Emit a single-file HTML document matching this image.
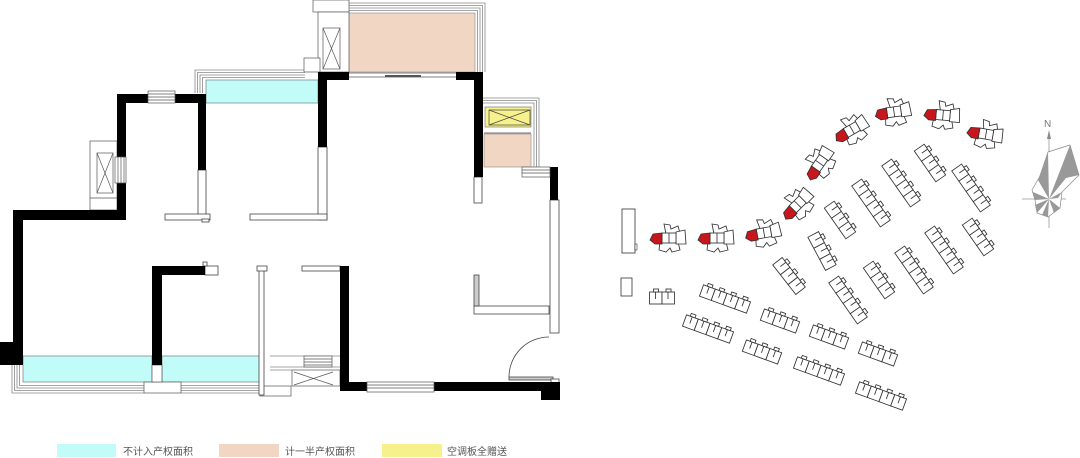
<!DOCTYPE html>
<html><head><meta charset="utf-8"><style>
html,body{margin:0;padding:0;background:#fff;}
svg{display:block;}
.t{font-family:"Liberation Sans","Noto Sans CJK SC",sans-serif;font-size:10px;fill:#555;}
</style></head><body>
<svg width="1080" height="458" viewBox="0 0 1080 458" xmlns="http://www.w3.org/2000/svg">
<defs>
<g id="tw" stroke="#333" stroke-width="0.85" fill="#fff">
  <path d="M-4,-14 L2,-13 L3,-9 L10,-12 L12,-5 L-2,-4 Z"/>
  <path d="M-8,4 L10,4 L12,12 L4,14 L2,10 L-2,14 L-9,12 Z"/>
  <path d="M8,-6 L17,-8 L18,6 L8,6 Z"/>
  <rect x="-6" y="-5" width="14" height="10"/>
  <line x1="1" y1="-5" x2="1" y2="5"/>
  <path d="M-6,-5 L-15,-4 L-18,2 L-13,6 L-6,6 Z" fill="#c8161d"/>
</g>
<g id="u" stroke="#333" stroke-width="0.85" fill="#fff">
  <rect x="0" y="-6" width="12.5" height="12"/>
  <rect x="4" y="-9" width="5" height="3"/>
  <line x1="6" y1="-6" x2="6" y2="1"/>
</g>
<g id="s2"><use href="#u" x="-12.5"/><use href="#u" x="0"/></g>
<g id="s3"><use href="#u" x="-18.75"/><use href="#u" x="-6.25"/><use href="#u" x="6.25"/></g>
<g id="s4"><use href="#u" x="-25"/><use href="#u" x="-12.5"/><use href="#u" x="0"/><use href="#u" x="12.5"/></g>
</defs>

<!-- ===== colored areas ===== -->
<rect x="206" y="80" width="112" height="23" fill="#c2fcf9" stroke="#666" stroke-width="0.6"/>
<rect x="23" y="356" width="129" height="26" fill="#c2fcf9" stroke="#666" stroke-width="0.6"/>
<rect x="162" y="356" width="98" height="26" fill="#c2fcf9" stroke="#666" stroke-width="0.6"/>
<rect x="349" y="13" width="126" height="59" fill="#f2d6c4" stroke="#888" stroke-width="0.6"/>
<rect x="484" y="134" width="47" height="33" fill="#f2d6c4" stroke="#888" stroke-width="0.6"/>
<rect x="485" y="107" width="46" height="20" fill="#f6f18a" stroke="#666" stroke-width="0.6"/>

<!-- ===== railings ===== -->
<g fill="none" stroke="#888" stroke-width="0.8">
  <polyline points="195,93 195,70 305,70"/>
  <polyline points="197.5,93 197.5,72.5 305,72.5"/>
  <polyline points="200,93 200,75 305,75"/>
  <polyline points="202.5,93 202.5,77.5 305,77.5"/>
  <polyline points="349,3 485,3 485,72"/>
  <polyline points="349,5.5 482.5,5.5 482.5,72"/>
  <polyline points="349,8 480,8 480,72"/>
  <polyline points="349,10.5 477.5,10.5 477.5,72"/>
  <polyline points="483,98 539,98 539,167"/>
  <polyline points="483,100.5 536.5,100.5 536.5,167"/>
  <polyline points="483,103 534,103 534,167"/>
  <polyline points="12,365 12,393 144,393"/>
  <polyline points="14.5,365 14.5,390.5 144,390.5"/>
  <polyline points="17,365 17,388 144,388"/>
  <polyline points="19.5,365 19.5,385.5 144,385.5"/>
  <line x1="181" y1="385.5" x2="260" y2="385.5"/>
  <line x1="181" y1="388" x2="260" y2="388"/>
  <line x1="181" y1="390.5" x2="260" y2="390.5"/>
  <line x1="181" y1="393" x2="260" y2="393"/>
  <line x1="270" y1="356" x2="340" y2="356"/>
  <line x1="270" y1="367" x2="340" y2="367"/>
  <line x1="270" y1="370" x2="292" y2="370"/>
</g>
<rect x="144" y="382" width="37" height="11" fill="#fff" stroke="#555" stroke-width="0.7"/>
<rect x="152" y="365" width="10" height="17" fill="#fff" stroke="#555" stroke-width="0.7"/>

<!-- ===== AC units ===== -->
<g fill="#fff" stroke="#555" stroke-width="0.7">
  <rect x="90" y="141" width="27" height="69"/>
  <rect x="97" y="153" width="16" height="40"/>
  <line x1="97" y1="153" x2="113" y2="193"/><line x1="113" y1="153" x2="97" y2="193"/>
  <line x1="90" y1="198" x2="117" y2="198"/>
  <rect x="313" y="0" width="36" height="12"/>
  <rect x="318" y="12" width="31" height="60"/>
  <rect x="323" y="28" width="17" height="41"/>
  <line x1="323" y1="28" x2="340" y2="69"/><line x1="340" y1="28" x2="323" y2="69"/>
  <rect x="304" y="58" width="16" height="14"/>
  <rect x="292" y="370" width="48" height="16"/>
  <line x1="294" y1="372" x2="333" y2="385"/><line x1="333" y1="372" x2="294" y2="385"/>
  <rect x="260" y="386" width="31" height="10"/>
</g>
<g fill="none" stroke="#444" stroke-width="0.7">
  <rect x="489" y="110" width="41" height="15"/>
  <line x1="489" y1="110" x2="530" y2="125"/><line x1="530" y1="110" x2="489" y2="125"/>
  <line x1="484" y1="133" x2="531" y2="133"/>
</g>

<!-- ===== thin walls ===== -->
<g fill="#fff" stroke="#444" stroke-width="0.8">
  <rect x="198" y="170" width="8" height="47"/>
  <rect x="165" y="214" width="45" height="6"/>
  <rect x="202" y="219" width="7" height="3"/>
  <rect x="318" y="147" width="9" height="73"/>
  <rect x="250" y="214" width="77" height="6"/>
  <rect x="474" y="177" width="8" height="26"/>
  <rect x="550" y="200" width="9" height="133"/>
  <rect x="474" y="306" width="75" height="8"/>
  <rect x="474" y="275" width="5" height="31" fill="#ccc"/>
  <rect x="302" y="266" width="38" height="5"/>
  <rect x="259" y="270" width="5" height="125"/>
  <rect x="257" y="266" width="10" height="5"/>
  <rect x="205" y="266" width="13" height="9"/>
  <rect x="203" y="262" width="4" height="4"/>
  <rect x="509" y="377" width="44" height="3" fill="#ccc"/>
  <rect x="551" y="379" width="8" height="4"/>
</g>
<path d="M509,377 A40,40 0 0,1 549,337" fill="none" stroke="#444" stroke-width="0.8"/>

<!-- ===== black walls ===== -->
<g fill="#000">
  <rect x="13" y="210" width="10" height="155"/>
  <rect x="0" y="342" width="23" height="23"/>
  <rect x="13" y="210" width="113" height="10"/>
  <rect x="117" y="94" width="9" height="126"/>
  <rect x="117" y="94" width="89" height="9"/>
  <rect x="198" y="94" width="8" height="76"/>
  <rect x="318" y="72" width="31" height="8"/>
  <rect x="318" y="72" width="9" height="75"/>
  <rect x="456" y="72" width="27" height="8"/>
  <rect x="474" y="72" width="9" height="105"/>
  <rect x="550" y="167" width="8" height="33"/>
  <rect x="152" y="266" width="10" height="99"/>
  <rect x="152" y="266" width="53" height="9"/>
  <rect x="340" y="266" width="9" height="125"/>
  <rect x="340" y="382" width="220" height="9"/>
  <rect x="541" y="382" width="19" height="18"/>
</g>

<!-- ===== windows / doors ===== -->
<g fill="#fff" stroke="#555" stroke-width="0.7">
  <rect x="148" y="91" width="27" height="12"/>
  <line x1="148" y1="94" x2="175" y2="94"/><line x1="148" y1="97" x2="175" y2="97"/><line x1="148" y1="100" x2="175" y2="100"/>
  <rect x="115" y="157" width="11" height="26"/>
  <line x1="118" y1="157" x2="118" y2="183"/><line x1="121" y1="157" x2="121" y2="183"/><line x1="124" y1="157" x2="124" y2="183"/>
  <rect x="522" y="167" width="28" height="10"/>
  <line x1="522" y1="170" x2="550" y2="170"/><line x1="522" y1="173" x2="550" y2="173"/>
  <rect x="367" y="382" width="67" height="10"/>
  <line x1="367" y1="385" x2="434" y2="385"/><line x1="367" y1="388" x2="434" y2="388"/>
  <rect x="304" y="356" width="28" height="11"/>
  <line x1="304" y1="359" x2="332" y2="359"/><line x1="304" y1="362" x2="332" y2="362"/><line x1="304" y1="365" x2="332" y2="365"/>
  <line x1="349" y1="73" x2="456" y2="73"/><line x1="349" y1="77" x2="456" y2="77"/>
</g>
<rect x="385" y="75" width="36" height="2" fill="#555"/>

<!-- ===== legend ===== -->
<rect x="57" y="444" width="59" height="13" fill="#c2fcf9"/>
<text class="t" x="123" y="455">不计入产权面积</text>
<rect x="219" y="444" width="60" height="13" fill="#f2d6c4"/>
<text class="t" x="285" y="455">计一半产权面积</text>
<rect x="382" y="444" width="60" height="13" fill="#f6f18a"/>
<text class="t" x="447" y="455">空调板全赠送</text>

<!-- ===== site plan ===== -->
<rect x="622" y="209" width="13" height="44" fill="#fff" stroke="#333" stroke-width="0.8"/>
<rect x="635" y="244" width="2" height="6" fill="#fff" stroke="#333" stroke-width="0.6"/>
<rect x="621" y="278" width="11" height="18" fill="#fff" stroke="#333" stroke-width="0.8"/>

<use href="#tw" transform="translate(668,238)"/>
<use href="#tw" transform="translate(716,238)"/>
<use href="#tw" transform="translate(763,233) rotate(-10)"/>
<use href="#tw" transform="translate(797,205) rotate(-45)"/>
<use href="#tw" transform="translate(819,164) rotate(-55)"/>
<use href="#tw" transform="translate(851,130) rotate(-30)"/>
<use href="#tw" transform="translate(893,112) rotate(-8)"/>
<use href="#tw" transform="translate(942,115) rotate(5)"/>
<use href="#tw" transform="translate(985,134) rotate(10)"/>

<!-- steep slabs -->
<use href="#s3" transform="translate(840,220) rotate(55)"/>
<use href="#s4" transform="translate(871,203) rotate(55)"/>
<use href="#s4" transform="translate(901,183) rotate(55)"/>
<use href="#s3" transform="translate(930,163) rotate(55)"/>
<use href="#s4" transform="translate(971,188) rotate(55)"/>
<use href="#s3" transform="translate(822,251) rotate(62)"/>
<use href="#s3" transform="translate(789,276) rotate(52)"/>
<use href="#s4" transform="translate(848,300) rotate(55)"/>
<use href="#s3" transform="translate(879,280) rotate(55)"/>
<use href="#s4" transform="translate(914,270) rotate(55)"/>
<use href="#s4" transform="translate(944,250) rotate(55)"/>
<use href="#s3" transform="translate(978,237) rotate(55)"/>

<!-- shallow slabs -->
<use href="#s2" transform="translate(662,298)"/>
<use href="#s4" transform="translate(725,299) rotate(20)"/>
<use href="#s4" transform="translate(708,329) rotate(20)"/>
<use href="#s3" transform="translate(780,321) rotate(20)"/>
<use href="#s3" transform="translate(762,352) rotate(20)"/>
<use href="#s3" transform="translate(829,337) rotate(20)"/>
<use href="#s4" transform="translate(819,371) rotate(20)"/>
<use href="#s3" transform="translate(878,354) rotate(20)"/>
<use href="#s4" transform="translate(881,396) rotate(20)"/>

<!-- compass -->
<text x="1044" y="127" font-family="Liberation Sans, sans-serif" font-size="10" fill="#777">N</text>
<line x1="1049" y1="132" x2="1049" y2="228" stroke="#999" stroke-width="0.8"/>
<line x1="1022" y1="199" x2="1066" y2="199" stroke="#999" stroke-width="0.8"/>
<path d="M1049,130 L1047,139 L1051,139 Z" fill="#888"/>
<polygon points="1048,152 1070,145 1079,175 1062,192 1060,208 1048,217 1037,213 1035,200 1032,190 1040,176" fill="#fff" stroke="#888" stroke-width="0.7"/>
<g fill="#999">
  <polygon points="1049,199 1048,152 1038,180"/>
  <polygon points="1049,199 1070,145 1079,175 1066,178"/>
  <polygon points="1049,199 1062,192 1058,198"/>
  <polygon points="1049,199 1060,208 1054,213"/>
  <polygon points="1049,199 1048,217 1042,215"/>
  <polygon points="1049,199 1037,213 1035,205"/>
  <polygon points="1049,199 1035,200 1033,192"/>
</g>
</svg>
</body></html>
